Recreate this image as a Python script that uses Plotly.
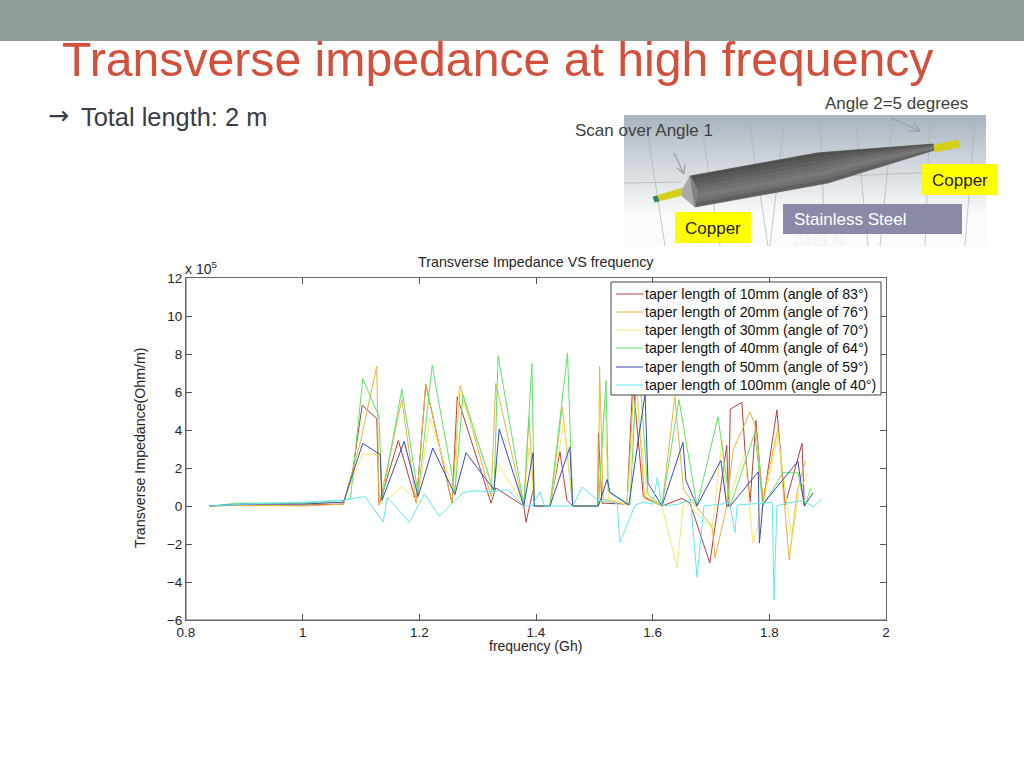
import plotly.graph_objects as go

W, H = 1024, 768
NAMES = ["taper length of 10mm (angle of 83°)", "taper length of 20mm (angle of 76°)",
         "taper length of 30mm (angle of 70°)", "taper length of 40mm (angle of 64°)",
         "taper length of 50mm (angle of 59°)", "taper length of 100mm (angle of 40°)"]
COLORS = ["#b8403f", "#e9b43c", "#f5e86a", "#5fe36a", "#3c4bb8", "#62e8ee"]

x10 = [0.84,0.9,1.0,1.07,1.086,1.102,1.127,1.131,1.164,1.195,1.211,1.256,1.265,1.323,1.331,1.379,1.383,1.395,1.397,1.424,1.441,1.453,1.463,1.506,1.507,1.513,1.556,1.566,1.584,1.616,1.65,1.664,1.698,1.727,1.73,1.733,1.753,1.758,1.767,1.777,1.789,1.813,1.827,1.856,1.86]
y10 = [0,0.05,0.05,0.1,1.9,5.3,4.6,0.05,3.45,0.15,6.4,0.15,5.75,0.15,0.95,0,-0.85,0.85,0,0,2.85,0.3,0,0,3.85,0.15,0.1,6.6,0.5,0,0.4,0.15,-3,3.2,0,5.1,5.45,3.05,0.2,4.5,0.1,5.05,0.05,3.3,0]
x20 = [0.84,0.9,1.0,1.07,1.1,1.127,1.131,1.17,1.195,1.211,1.256,1.27,1.323,1.331,1.379,1.388,1.397,1.424,1.445,1.463,1.507,1.509,1.515,1.556,1.57,1.586,1.616,1.638,1.653,1.702,1.707,1.727,1.738,1.767,1.777,1.789,1.815,1.834,1.848,1.862]
y20 = [0,0.05,0,0.1,3.5,7.35,0.05,5.6,0.15,6.4,0.15,6.35,0.5,6.45,0,4.7,0,0,5.2,0,0,7.35,0.35,0.1,7.5,0.4,0,5.75,0.85,-1.1,-2.75,0,2.95,4.95,4.1,0.4,4.1,-2.85,0.8,2.4]
x30 = [0.84,0.9,1.0,1.07,1.103,1.133,1.136,1.17,1.197,1.218,1.261,1.268,1.328,1.333,1.38,1.388,1.397,1.424,1.448,1.463,1.507,1.518,1.524,1.556,1.572,1.59,1.616,1.642,1.653,1.702,1.719,1.727,1.758,1.772,1.789,1.815,1.839,1.85,1.866]
y30 = [0,0.1,0.1,0.2,2.75,2.7,0.1,1,0.3,4.6,0.6,6.1,0.9,2.3,0,3.1,0,0,4.5,0,0,5.6,0.4,0.05,6.2,0.5,0,-3.25,0.3,-1.2,3.5,0,2.8,-1.95,0.1,3.65,-1.8,0.6,1.75]
x40 = [0.84,0.89,1.0,1.07,1.082,1.103,1.131,1.136,1.17,1.198,1.222,1.261,1.275,1.328,1.335,1.379,1.393,1.397,1.424,1.454,1.463,1.507,1.52,1.524,1.561,1.575,1.592,1.616,1.645,1.676,1.712,1.733,1.775,1.789,1.823,1.849,1.861,1.871]
y40 = [0,0.15,0.15,0.3,0.4,6.7,4.7,0.3,6.15,0.6,7.4,0.75,5.85,0.7,7.9,0.05,7.5,0,0,8.05,0,0,6.6,0.8,0.05,8.2,0.6,0,5.6,0,4.7,0,3.85,0,1.75,1.75,0,0.95]
x50 = [0.84,0.9,1.0,1.07,1.103,1.133,1.136,1.174,1.198,1.223,1.261,1.28,1.328,1.337,1.379,1.395,1.397,1.424,1.458,1.463,1.507,1.522,1.527,1.559,1.587,1.592,1.616,1.652,1.657,1.676,1.717,1.727,1.733,1.781,1.783,1.789,1.849,1.86,1.875]
y50 = [0,0.1,0.1,0.2,3.3,2.7,0.3,3.4,0.5,3.05,0.6,2.8,0.85,4.05,0,2.8,0,0,3.1,0,0,1.4,0.7,0.05,5.9,1.2,0,3.35,1.35,0,2.4,0,0,1.8,-1.95,0.1,2.35,0,0.7]
x100 = [0.84,0.9,1.0,1.07,1.107,1.138,1.145,1.183,1.209,1.234,1.257,1.275,1.292,1.32,1.352,1.379,1.393,1.407,1.414,1.463,1.479,1.506,1.539,1.544,1.57,1.584,1.6,1.608,1.616,1.645,1.665,1.676,1.688,1.712,1.732,1.741,1.745,1.789,1.805,1.808,1.813,1.83,1.858,1.875,1.89]
y100 = [0,0.1,0.2,0.3,0.5,-0.85,0.45,-0.85,0.65,-0.55,0.15,0.7,0.8,0.75,0.85,0,0,0.75,0,0,1,0.3,0.15,-1.9,0.05,0.2,0.1,1.5,0,0.1,0.35,-3.75,0,0.1,0.15,-1.4,0.05,0.15,0.2,-4.95,0,0.15,0.3,-0.05,0.35]

XS = [x10, x20, x30, x40, x50, x100]
YS = [y10, y20, y30, y40, y50, y100]
X_TICKS = [0.8, 1, 1.2, 1.4, 1.6, 1.8, 2]
X_LABELS = ["0.8", "1", "1.2", "1.4", "1.6", "1.8", "2"]
Y_TICKS = [-6, -4, -2, 0, 2, 4, 6, 8, 10, 12]

FONT = "Liberation Sans"
INK = "#262626"
SLATE = "#3a3c48"
px = lambda v: v / W
py = lambda v: 1 - v / H


def rect(x0, y0, x1, y1, fill, layer="below", border=None):
    return dict(type="rect", xref="paper", yref="paper", layer=layer, x0=px(x0), x1=px(x1),
                y0=py(y0), y1=py(y1), fillcolor=fill,
                line=dict(width=1, color=border) if border else dict(width=0))


def seg(x0, y0, x1, y1, color, w=1, layer="below"):
    return dict(type="line", xref="paper", yref="paper", layer=layer, x0=px(x0), x1=px(x1),
                y0=py(y0), y1=py(y1), line=dict(color=color, width=w))


def poly(pts, fill):
    d = "M " + " L ".join(f"{px(a):.5f},{py(b):.5f}" for a, b in pts) + " Z"
    return dict(type="path", xref="paper", yref="paper", layer="below", path=d,
                fillcolor=fill, line=dict(width=0.7, color=fill))


def label(x, y, text, size, color=INK, anchor="left", angle=0, family=FONT):
    return dict(xref="paper", yref="paper", x=px(x), y=py(y), text=text, showarrow=False,
                xanchor=anchor, yanchor="middle", textangle=angle,
                font=dict(family=family, size=size, color=color))


shapes = [rect(0, 0, 1024, 41, "#8f9f98")]
top, bottom = (172, 182, 194), (250, 251, 250)
steps = 22
for i in range(steps):
    t = i / (steps - 1)
    c = tuple(int(top[k] + (bottom[k] - top[k]) * min(1, t * 1.3)) for k in range(3))
    y0 = 115 + i * 131 / steps
    shapes.append(rect(624, y0, 986, y0 + 131 / steps + 0.5, f"rgb{c}"))
for a, b, c, d in [(645, 115, 665, 246), (700, 115, 720, 246), (748, 115, 768, 246), (785, 115, 770, 246),
                   (820, 115, 825, 246), (855, 115, 868, 246), (893, 115, 880, 246), (930, 115, 925, 246), (975, 115, 965, 246),
                   (624, 183, 682, 182), (800, 178, 986, 170)]:
    shapes.append(seg(a, b, c, d, "#aab1b8", 0.7))

upper = [(690, 176), (817, 153), (828, 152), (933, 144)]
lower = [(695, 207), (828, 183), (870, 170), (935, 150)]
strip_shades = ["#4f4f4f", "#585858", "#606060", "#6a6a6a", "#707070", "#787878", "#6f6f6f", "#5f5f5f"]
n = len(strip_shades)
for i, shade in enumerate(strip_shades):
    a0, a1 = i / n, (i + 1) / n
    s0 = [(u[0] + (l[0] - u[0]) * a0, u[1] + (l[1] - u[1]) * a0) for u, l in zip(upper, lower)]
    s1 = [(u[0] + (l[0] - u[0]) * a1, u[1] + (l[1] - u[1]) * a1) for u, l in zip(upper, lower)]
    shapes.append(poly(s0 + s1[::-1], shade))
shapes += [
    poly([(653, 197), (682, 188), (683, 195), (655, 202)], "#d6cf1a"),
    poly([(653, 197), (657, 196), (659, 201), (655, 202)], "#2d7f7d"),
    poly([(934, 145), (958, 140), (960, 147), (935, 152)], "#d6cf1a"),
    poly([(682, 190), (690, 176), (697, 190), (695, 207), (682, 196)], "#a8a8a8"),
    poly([(690, 176), (697, 190), (695, 207)], "#808080"),
    rect(922, 164, 998, 195, "#ffff00"),
    rect(675, 212, 751, 243, "#ffff00"),
    rect(783, 204, 962, 234, "#8a8aa8"),
    seg(891, 118, 920, 131, "#98a0a5", 1.2), seg(920, 131, 908, 131, "#98a0a5", 1.2), seg(920, 131, 914, 123, "#98a0a5", 1.2),
    seg(674, 153, 684, 174, "#98a0a5", 1.2), seg(684, 174, 677, 168, "#98a0a5", 1.2), seg(684, 174, 685, 164, "#98a0a5", 1.2),
    seg(186, 278, 186, 620, "#999999", 1.6), seg(186, 620, 886, 620, "#999999", 1.6),
]

annotations = [
    label(60, 59, "Transverse impedance at high frequency", 48.2, "#d2503c"),
    label(46, 116, "→", 25, SLATE, family="DejaVu Sans"),
    label(79, 117, "Total length: 2 m", 25.4, SLATE),
    label(823, 104, "Angle 2=5 degrees", 17, "#404040"),
    label(573, 131, "Scan over Angle 1", 17, "#404040"),
    label(960, 180, "Copper", 17, INK, "center"),
    label(713, 228, "Copper", 17, INK, "center"),
    label(792, 219, "Stainless Steel", 17, "#ffffff"),
    label(792, 241, "316LN", 17, "#f4f4f4"),
    label(536, 262, "Transverse Impedance VS frequency", 14.3, INK, "center"),
    label(535, 646, "frequency (Gh)", 14, INK, "center"),
    label(140, 448, "Transverse Impedance(Ohm/m)", 14.2, INK, "center", -90),
    label(183, 268, "x 10<sup>5</sup>", 14),
]

LEG_ROWS = [294, 312, 330, 348, 367, 385]
shapes.append(rect(611, 282, 881, 395, "white", layer="above", border="#444444"))
for row, name, color in zip(LEG_ROWS, NAMES, COLORS):
    shapes.append(seg(616, row, 643, row, color, 1, layer="above"))
    annotations.append(label(643, row, name, 14.2, "#111111"))

fig = go.Figure()
for n_, c, xs, ys in zip(NAMES, COLORS, XS, YS):
    fig.add_trace(go.Scatter(x=xs, y=ys, name=n_, mode="lines", line=dict(color=c, width=1)))

axis = dict(showgrid=False, zeroline=False, showline=True, mirror="ticks", linecolor="#666666", linewidth=1,
            ticks="inside", ticklen=6, tickcolor="#555555", tickfont=dict(family=FONT, size=13.5, color=INK))
fig.update_layout(
    width=W, height=H, margin=dict(l=0, r=0, t=0, b=0, pad=0, autoexpand=False), showlegend=False,
    paper_bgcolor="white", plot_bgcolor="rgba(0,0,0,0)", shapes=shapes, annotations=annotations,
    xaxis=dict(axis, domain=[186 / W, 886 / W], range=[0.8, 2], tickvals=X_TICKS, ticktext=X_LABELS),
    yaxis=dict(axis, domain=[1 - 620 / H, 1 - 278 / H], range=[-6, 12], tickvals=Y_TICKS),
    font=dict(family=FONT),
)
fig.write_html("out.html", config=dict(displayModeBar=False),
               post_script="document.body.style.cssText='margin:0;padding:0;overflow:hidden';document.documentElement.style.cssText='margin:0;padding:0;overflow:hidden';")
